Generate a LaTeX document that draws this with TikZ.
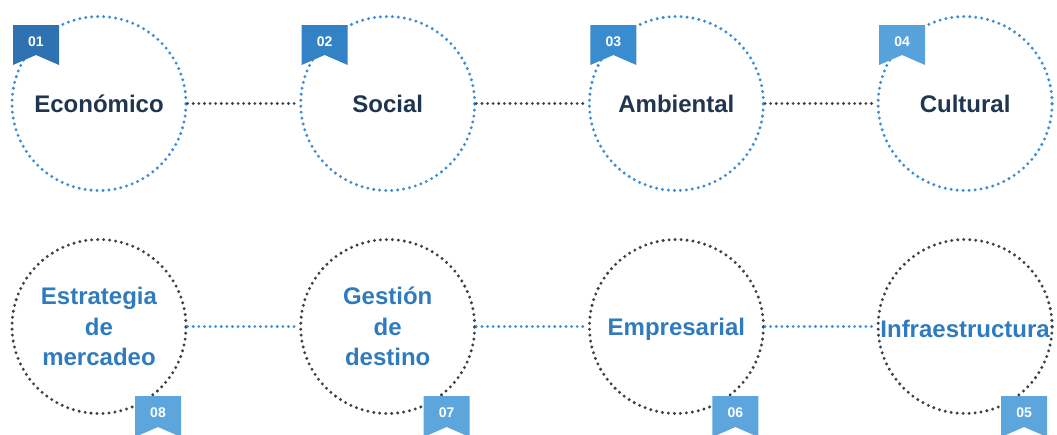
\documentclass[tikz,border=0pt]{standalone}
\usepackage{fontspec}
\setmainfont{Liberation Sans}
\usetikzlibrary{positioning}
\definecolor{ringblue}{HTML}{3D8DD0}
\definecolor{ringgray}{HTML}{3B4049}
\definecolor{navy}{HTML}{1F3550}
\definecolor{lblblue}{HTML}{2F7BBE}
\definecolor{tagA}{HTML}{2E72B2}
\definecolor{tagB}{HTML}{3482C6}
\definecolor{tagC}{HTML}{3A8CD0}
\definecolor{tagD}{HTML}{57A2DB}
\definecolor{tagE}{HTML}{5CA6DD}

\begin{document}
\begin{tikzpicture}[
  x=1pt, y=-1pt,
  ring/.style={circle, minimum size=174pt, inner sep=0pt, line width=3.3pt,
               line cap=round, dash pattern=on 0pt off 6pt},
  topring/.style={ring, draw=ringblue},
  botring/.style={ring, draw=ringgray},
  link/.style={line width=3.1pt, line cap=round, dash pattern=on 0pt off 5.6pt},
  toplbl/.style={font=\fontsize{24}{28}\selectfont\bfseries, text=navy},
  botlbl/.style={font=\fontsize{24}{30.5}\selectfont\bfseries, text=lblblue, align=center},
  numlbl/.style={font=\fontsize{14}{16}\selectfont\bfseries, text=white, inner sep=0pt}
]
\useasboundingbox (0,0) rectangle (1057,434);

% ================= top row =================
\node[topring] (c1) at (99, 103.5) {};
\node[topring] (c2) at (387.7, 103.5) {};
\node[topring] (c3) at (676.4, 103.5) {};
\node[topring] (c4) at (965.1, 103.5) {};

\node[toplbl] (t1) at (c1) {Económico};
\node[toplbl] (t2) at (c2) {Social};
\node[toplbl] (t3) at (c3) {Ambiental};
\node[toplbl] (t4) at (c4) {Cultural};

\draw[link, ringgray] (c1.east) -- (c2.west);
\draw[link, ringgray] (c2.east) -- (c3.west);
\draw[link, ringgray] (c3.east) -- (c4.west);

% tags, notch at the bottom
\foreach \i/\num/\col in {1/01/tagA, 2/02/tagB, 3/03/tagC, 4/04/tagD} {
  \pgfmathsetmacro\tx{99+288.7*(\i-1)-86}
  \fill[\col] (\tx,25) -- ++(46,0) -- ++(0,40) -- ++(-23,-10) -- ++(-23,10) -- cycle;
  \node[numlbl] (n\i) at (\tx+23,42) {\num};
}

% ================= bottom row =================
\node[botring] (c8) at (99, 326.5) {};
\node[botring] (c7) at (387.7, 326.5) {};
\node[botring] (c6) at (676.4, 326.5) {};
\node[botring] (c5) at (965.1, 326.5) {};

\node[botlbl] (t8) at (c8) {Estrategia\\de\\mercadeo};
\node[botlbl] (t7) at (c7) {Gestión\\de\\destino};
\node[botlbl, yshift=-3pt] (t6) at (c6) {Empresarial};
\node[botlbl, yshift=-2pt] (t5) at (c5) {Infraestructura};

\draw[link, ringblue] (c8.east) -- (c7.west);
\draw[link, ringblue] (c7.east) -- (c6.west);
\draw[link, ringblue] (c6.east) -- (c5.west);

\foreach \i/\num in {8/08, 7/07, 6/06, 5/05} {
  \pgfmathsetmacro\tx{99+288.7*(8-\i)+36}
  \fill[tagE] (\tx,396) -- ++(46,0) -- ++(0,41) -- ++(-23,-10) -- ++(-23,10) -- cycle;
  \node[numlbl] (n\i) at (\tx+23,413) {\num};
}

\end{tikzpicture}
\end{document}
